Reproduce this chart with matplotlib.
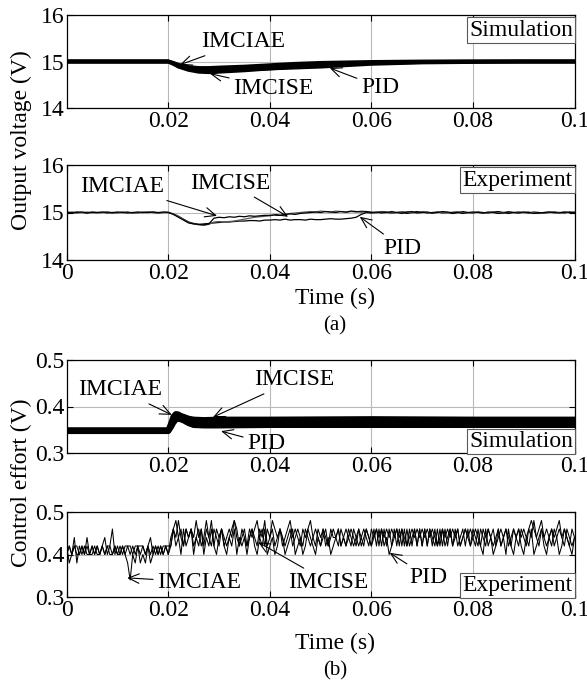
import numpy as np
import matplotlib
matplotlib.use("Agg")
import matplotlib.pyplot as plt

plt.rcParams['font.family'] = ['Liberation Serif', 'DejaVu Serif']
plt.rcParams['font.size'] = 17
plt.rcParams['mathtext.fontset'] = 'stix'

# ---- (a) output voltage, simulation (smooth responses, knot times in s)
sim_v_t = [0, 0.02, 0.021, 0.022, 0.024, 0.026, 0.028, 0.03, 0.035, 0.04,
           0.045, 0.05, 0.055, 0.06, 0.07, 0.08, 0.09, 0.1]
sim_v_iae = [15.0, 15.0, 14.97, 14.93, 14.88, 14.86, 14.86, 14.87, 14.89, 14.92,
             14.95, 14.97, 14.98, 14.99, 15.0, 15.0, 15.0, 15.0]
sim_v_ise = [15.0, 15.0, 14.95, 14.89, 14.82, 14.78, 14.77, 14.78, 14.81, 14.85,
             14.89, 14.92, 14.95, 14.97, 14.99, 15.0, 15.0, 15.0]
sim_v_pid = [15.0, 15.0, 14.96, 14.91, 14.85, 14.83, 14.82, 14.82, 14.83, 14.85,
             14.87, 14.89, 14.92, 14.95, 14.98, 14.99, 15.0, 15.0]

# ---- (a) output voltage, experiment (1 ms samples)
exp_v_iae = [15.01, 14.99, 15.00, 15.01, 14.99, 15.00, 15.00, 15.01, 14.99, 15.00,
             15.01, 15.00, 14.99, 15.00, 15.01, 15.00, 15.00, 15.01, 15.00, 15.01,
             15.00, 14.96, 14.90, 14.84, 14.78, 14.76, 14.75, 14.74, 14.76, 14.88,
             14.90, 14.89, 14.91, 14.90, 14.92, 14.91, 14.93, 14.92, 14.93, 14.94,
             14.94, 14.95, 14.94, 14.96, 14.97, 14.96, 14.98, 14.99, 15.00, 15.01,
             15.00, 15.02, 15.01, 15.00, 15.02, 15.01, 15.03, 15.02, 15.01, 15.02,
             15.00, 15.01, 14.99, 15.00, 15.02, 15.00, 14.98, 15.01, 15.02, 14.99,
             15.00, 15.01, 14.99, 15.00, 15.02, 15.01, 14.99, 15.00, 14.98, 15.00,
             15.01, 15.00, 14.99, 15.01, 15.00, 14.98, 14.99, 15.01, 15.00, 14.99,
             15.01, 15.00, 14.98, 14.99, 15.00, 15.01, 15.00, 14.99, 15.01, 15.00,
             15.00]
exp_v_ise = [15.00, 15.01, 14.99, 15.00, 15.01, 15.00, 14.99, 15.00, 15.01, 15.00,
             14.99, 15.01, 15.00, 15.00, 14.99, 15.01, 15.00, 15.01, 14.99, 15.00,
             15.01, 14.97, 14.92, 14.85, 14.79, 14.76, 14.74, 14.73, 14.75, 14.80,
             14.81, 14.80, 14.81, 14.82, 14.84, 14.86, 14.88, 14.90, 14.91, 14.92,
             14.93, 14.95, 14.94, 14.96, 14.98, 14.99, 15.00, 15.01, 15.02, 15.01,
             15.03, 15.02, 15.01, 15.03, 15.02, 15.00, 15.02, 15.01, 15.03, 15.02,
             15.01, 14.99, 15.01, 15.00, 14.98, 15.00, 15.02, 15.01, 14.99, 15.00,
             15.02, 15.00, 14.98, 15.01, 15.00, 14.99, 15.01, 15.02, 15.00, 14.99,
             15.00, 15.01, 14.98, 15.00, 15.01, 14.99, 15.00, 15.02, 15.00, 14.99,
             15.00, 15.01, 14.99, 14.98, 15.00, 15.01, 14.99, 15.00, 15.01, 15.00,
             15.01]
exp_v_pid = [14.99, 15.00, 15.01, 15.00, 14.99, 15.01, 15.00, 15.00, 15.01, 14.99,
             15.00, 15.00, 15.01, 14.99, 15.00, 15.00, 15.01, 15.00, 14.99, 15.00,
             15.00, 14.97, 14.92, 14.86, 14.80, 14.77, 14.75, 14.76, 14.77, 14.78,
             14.79, 14.80, 14.80, 14.81, 14.82, 14.82, 14.83, 14.83, 14.82, 14.84,
             14.84, 14.85, 14.84, 14.86, 14.84, 14.85, 14.85, 14.84, 14.86, 14.85,
             14.85, 14.86, 14.87, 14.86, 14.86, 14.87, 14.88, 14.90, 14.96, 15.00,
             14.99, 15.00, 15.02, 15.01, 14.99, 15.00, 15.01, 14.98, 15.00, 15.02,
             15.01, 14.99, 15.00, 15.01, 14.99, 15.00, 14.98, 15.00, 15.02, 15.00,
             14.99, 15.01, 15.00, 14.99, 15.01, 15.02, 15.00, 14.98, 15.00, 15.01,
             15.00, 14.99, 15.01, 15.00, 14.99, 15.00, 15.01, 15.00, 14.99, 15.01,
             15.00]

# ---- (b) control effort, simulation
sim_u_t = [0, 0.02, 0.0205, 0.021, 0.0215, 0.022, 0.023, 0.024, 0.025, 0.027,
           0.03, 0.04, 0.06, 0.08, 0.1]
sim_u_iae = [0.348, 0.348, 0.362, 0.378, 0.384, 0.383, 0.376, 0.368, 0.365, 0.365,
             0.366, 0.367, 0.367, 0.367, 0.367]
sim_u_ise = [0.349, 0.349, 0.358, 0.372, 0.380, 0.381, 0.378, 0.374, 0.372, 0.371,
             0.372, 0.372, 0.373, 0.372, 0.372]
sim_u_pid = [0.347, 0.347, 0.355, 0.365, 0.372, 0.374, 0.370, 0.364, 0.360, 0.359,
             0.359, 0.360, 0.360, 0.360, 0.360]

# ---- (b) control effort, experiment (0.5 ms samples, units of 10 mV)
exp_u_iae = [40, 42, 40, 42, 40, 40, 42, 40, 42, 40, 40,
             42, 40, 40, 42, 40, 42, 40, 40, 42, 40,
             40, 42, 40, 38, 34, 40, 38, 42, 38, 40,
             38, 42, 38, 40, 42, 40, 42, 40, 42, 40,
             42, 46, 44, 48, 44, 42, 46, 44, 46, 42,
             44, 46, 42, 44, 48, 44, 42, 46, 44, 42,
             46, 44, 42, 44, 46, 48, 44, 42, 44, 46,
             42, 44, 46, 44, 42, 46, 44, 48, 42, 44,
             46, 42, 44, 46, 44, 42, 44, 46, 42, 44,
             46, 44, 42, 46, 44, 42, 44, 46, 44, 42,
             44, 46, 42, 44, 46, 44, 42, 46, 44, 42,
             46, 44, 42, 44, 46, 42, 44, 46, 44, 42,
             46, 42, 46, 42, 46, 42, 46, 42, 44, 46,
             42, 46, 42, 46, 42, 44, 46, 42, 46, 42,
             46, 42, 46, 44, 42, 46, 42, 46, 42, 44,
             46, 42, 44, 46, 42, 44, 46, 44, 42, 46,
             44, 42, 46, 44, 42, 46, 44, 42, 44, 46,
             42, 44, 46, 42, 44, 46, 44, 42, 46, 44,
             42, 46, 44, 48, 44, 42, 46, 44, 42, 44,
             46, 42, 44, 46, 44, 42, 46, 44, 42, 44]
exp_u_ise = [40, 42, 40, 42, 42, 40, 42, 40, 44, 40, 42,
             40, 42, 40, 42, 40, 42, 42, 40, 42, 40,
             42, 40, 42, 42, 42, 40, 42, 42, 42, 42,
             40, 42, 40, 42, 40, 42, 40, 42, 42, 40,
             44, 46, 48, 44, 46, 42, 46, 44, 46, 44,
             48, 44, 46, 42, 46, 44, 48, 42, 46, 44,
             46, 42, 44, 46, 44, 48, 46, 42, 46, 44,
             42, 46, 44, 46, 48, 44, 46, 42, 46, 44,
             48, 46, 44, 46, 42, 44, 46, 48, 44, 46,
             44, 42, 46, 44, 46, 48, 44, 42, 46, 44,
             46, 44, 42, 46, 44, 44, 46, 42, 44, 46,
             44, 46, 44, 42, 46, 44, 46, 44, 42, 46,
             44, 46, 44, 46, 44, 46, 44, 46, 44, 46,
             44, 46, 44, 42, 44, 46, 44, 46, 44, 46,
             44, 46, 44, 46, 44, 42, 44, 46, 44, 46,
             44, 46, 44, 46, 42, 44, 46, 44, 46, 44,
             46, 44, 42, 46, 44, 46, 44, 46, 42, 44,
             46, 44, 46, 44, 42, 46, 44, 46, 44, 46,
             44, 46, 48, 46, 44, 46, 48, 44, 46, 44,
             46, 44, 46, 48, 44, 46, 44, 42, 46, 44]
exp_u_pid = [42, 38, 40, 44, 38, 42, 40, 42, 40, 40, 42,
             40, 42, 40, 42, 44, 40, 42, 46, 40, 42,
             40, 42, 40, 42, 40, 42, 40, 42, 40, 42,
             40, 42, 44, 40, 42, 40, 42, 40, 42, 42,
             42, 46, 42, 44, 40, 46, 42, 44, 46, 40,
             44, 42, 46, 40, 44, 42, 46, 42, 40, 44,
             46, 42, 40, 44, 42, 46, 40, 44, 42, 44,
             40, 44, 46, 42, 40, 44, 42, 46, 40, 42,
             44, 40, 42, 46, 44, 40, 42, 44, 46, 40,
             42, 44, 40, 42, 46, 44, 42, 40, 44, 42,
             46, 42, 44, 40, 42, 44, 46, 42, 44, 42,
             44, 42, 46, 44, 42, 44, 42, 46, 44, 42,
             44, 46, 42, 46, 42, 44, 40, 42, 46, 42,
             46, 42, 46, 42, 46, 42, 46, 42, 46, 42,
             46, 42, 46, 42, 46, 42, 46, 42, 46, 42,
             46, 42, 46, 42, 44, 46, 42, 46, 42, 44,
             42, 46, 42, 40, 46, 42, 44, 40, 42, 46,
             42, 44, 40, 46, 42, 40, 44, 46, 42, 40,
             44, 42, 46, 40, 42, 44, 46, 42, 40, 44,
             42, 46, 44, 40, 42, 46, 44, 42, 40, 44]

W, H = 587, 685
fig = plt.figure(figsize=(W / 100, H / 100), dpi=100)


def make_axes(top, bottom, left=66.7, right=574.5):
    return fig.add_axes([left / W, 1 - bottom / H, (right - left) / W, (bottom - top) / H])


def style(ax, ylim, yticks, ylabels, xticks, xlabels):
    ax.set_xlim(0, 0.1)
    ax.set_ylim(*ylim)
    ax.set_xticks(xticks)
    ax.set_xticklabels(xlabels)
    ax.set_yticks(yticks)
    ax.set_yticklabels(ylabels)
    ax.tick_params(direction='in', top=True, right=True, length=4, width=0.8)
    ax.tick_params(axis='x', pad=2)
    ax.tick_params(axis='y', pad=1.5)
    ax.grid(True, color='0.72', lw=0.8)
    ax.set_axisbelow(True)
    for s in ax.spines.values():
        s.set_linewidth(0.9)


def boxed(ax, x, y, s, va):
    ax.text(x, y, s, transform=ax.transAxes, ha='right', va=va,
            bbox=dict(boxstyle='square,pad=0.1', fc='white', ec='0.35', lw=0.8))


def note(ax, s, xy, xytext):
    ax.annotate(s, xy=xy, xytext=xytext, ha='center', va='center',
                arrowprops=dict(arrowstyle='->,head_length=0.45,head_width=0.2',
                                color='k', lw=0.8, shrinkA=1, shrinkB=0))


xt_a = [0.02, 0.04, 0.06, 0.08, 0.1]
xt_b = [0, 0.02, 0.04, 0.06, 0.08, 0.1]
xl_a = ['0.02', '0.04', '0.06', '0.08', '0.1']
xl_b = ['0', '0.02', '0.04', '0.06', '0.08', '0.1']

# output voltage, simulation
ax1 = make_axes(15, 108)
for v in (sim_v_pid, sim_v_ise, sim_v_iae):
    ax1.plot(sim_v_t, v, color='k', lw=2.8, solid_joinstyle='round')
style(ax1, (14, 16), [14, 15, 16], ['14', '15', '16'], xt_a, xl_a)
boxed(ax1, 0.997, 0.95, 'Simulation', 'top')
note(ax1, 'IMCIAE', (0.0223, 14.93), (0.0347, 15.42))
note(ax1, 'IMCISE', (0.0282, 14.74), (0.0407, 14.43))
note(ax1, 'PID', (0.0518, 14.86), (0.0617, 14.45))

# output voltage, experiment
ax2 = make_axes(165, 260)
t_v = np.linspace(0, 0.1, len(exp_v_iae))
ax2.plot(t_v, exp_v_pid, color='k', lw=0.9)
ax2.plot(t_v, exp_v_ise, color='0.35', lw=0.9)
ax2.plot(t_v, exp_v_iae, color='k', lw=0.9)
style(ax2, (14, 16), [14, 15, 16], ['14', '15', '16'], xt_b, xl_b)
boxed(ax2, 0.997, 0.95, 'Experiment', 'top')
note(ax2, 'IMCIAE', (0.0296, 14.93), (0.0109, 15.54))
note(ax2, 'IMCISE', (0.0436, 14.91), (0.0322, 15.62))
note(ax2, 'PID', (0.0577, 14.91), (0.0662, 14.25))

# control effort, simulation
ax3 = make_axes(360, 453)
for u in (sim_u_pid, sim_u_ise, sim_u_iae):
    ax3.plot(sim_u_t, u, color='k', lw=4.2, solid_joinstyle='round')
style(ax3, (0.3, 0.5), [0.3, 0.4, 0.5], ['0.3', '0.4', '0.5'], xt_a, xl_a)
boxed(ax3, 0.997, 0.012, 'Simulation', 'bottom')
note(ax3, 'IMCIAE', (0.0207, 0.382), (0.0105, 0.4355))
note(ax3, 'IMCISE', (0.0288, 0.377), (0.0448, 0.457))
note(ax3, 'PID', (0.0304, 0.347), (0.0393, 0.321))

# control effort, experiment
ax4 = make_axes(512, 597)
t_u = np.linspace(0, 0.1, len(exp_u_iae))
for u in (exp_u_pid, exp_u_ise, exp_u_iae):
    ax4.plot(t_u, np.array(u) / 100, color='k', lw=0.75)
style(ax4, (0.3, 0.5), [0.3, 0.4, 0.5], ['0.3', '0.4', '0.5'], xt_b, xl_b)
boxed(ax4, 0.997, 0.012, 'Experiment', 'bottom')
note(ax4, 'IMCIAE', (0.0119, 0.345), (0.0261, 0.335))
note(ax4, 'IMCISE', (0.0377, 0.429), (0.0515, 0.335))
note(ax4, 'PID', (0.0636, 0.404), (0.0713, 0.345))

# shared labels
fig.text(21 / W, 1 - 140 / H, 'Output voltage (V)', rotation=90, ha='center', va='center')
fig.text(21 / W, 1 - 483 / H, 'Control effort (V)', rotation=90, ha='center', va='center')
fig.text(335 / W, 1 - 298 / H, 'Time (s)', ha='center', va='center')
fig.text(335 / W, 1 - 326 / H, '(a)', ha='center', va='center', fontsize=15)
fig.text(335 / W, 1 - 643 / H, 'Time (s)', ha='center', va='center')
fig.text(335 / W, 1 - 671 / H, '(b)', ha='center', va='center', fontsize=15)

fig.savefig('out.png', dpi=100, facecolor='white')
